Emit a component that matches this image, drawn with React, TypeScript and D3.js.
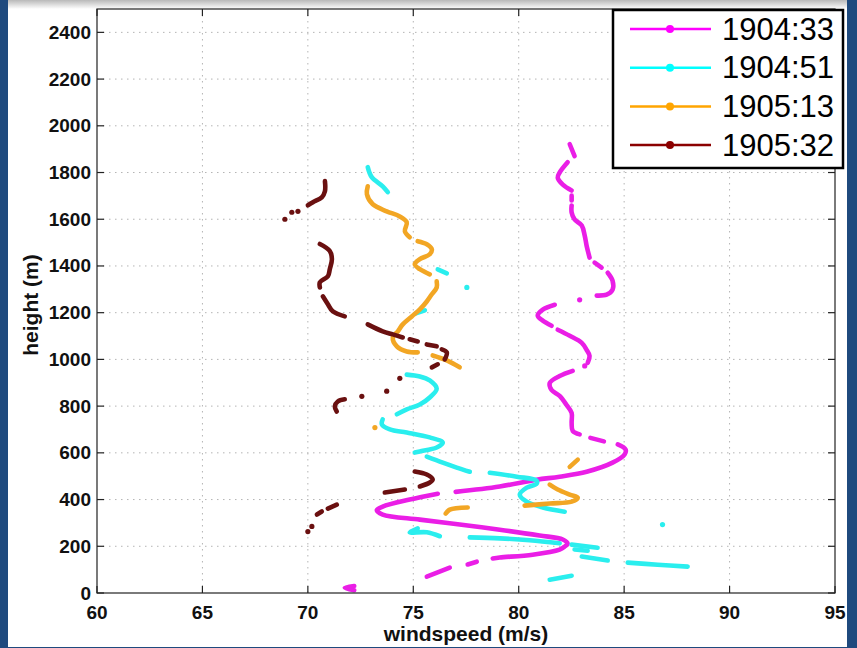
import React from 'react';
import * as d3 from 'd3';

type P = [number, number] | null;

const xTicks = [60, 65, 70, 75, 80, 85, 90, 95];
const yTicks = [0, 200, 400, 600, 800, 1000, 1200, 1400, 1600, 1800, 2000, 2200, 2400];
const seriesNames = ['1904:33', '1904:51', '1905:13', '1905:32'];

// [windspeed m/s, height m], null = gap
const s1904_33: P[] = [
  [82.42, 1921], [82.65, 1870], null,
  [82.32, 1844], [81.94, 1800], [81.85, 1778], [82.09, 1748], [82.51, 1723], null,
  [82.51, 1701], [82.51, 1680], null,
  [82.51, 1659], [82.51, 1629], [82.65, 1599], [82.99, 1573], [83.13, 1530], [83.22, 1487], [83.36, 1436], null,
  [83.60, 1414], [83.93, 1393], null,
  [84.22, 1371], [84.45, 1337], [84.45, 1298], [84.17, 1277], [83.70, 1273], null,
  [82.89, 1255], null,
  [81.71, 1234], [81.14, 1213], [80.90, 1187], [81.14, 1166], [81.56, 1144], null,
  [81.85, 1127], [82.42, 1101], [82.99, 1071], [83.22, 1041], [83.36, 1015], [83.27, 985], null,
  [83.13, 972], null,
  [82.56, 951], [81.94, 929], [81.47, 899], [81.56, 869], [81.94, 844], [82.27, 805], [82.51, 771], [82.51, 728], [82.56, 694], [82.89, 679], null,
  [83.40, 664], [84.04, 649], null,
  [84.70, 636], [85.07, 614], [85.02, 593], [84.45, 558], [83.22, 519], [81.94, 498], [80.85, 485], [79.10, 456], [77.01, 433], null,
  [76.16, 425], [74.83, 400], [73.55, 370], [73.27, 355], [73.55, 336], [75.31, 314], [77.20, 293], [79.10, 271], [80.99, 246], [82.09, 229], [82.32, 211], [82.18, 199], [81.94, 186], [80.66, 164], [79.10, 152], [78.77, 148], null,
  [78.01, 134], [77.58, 122], null,
  [76.73, 109], [75.64, 70], null,
  [72.2, 30], [71.75, 22], [72.2, 12],
];

const s1904_51: P[] = [
  [72.84, 1823], [73.03, 1780], [73.55, 1741], [73.79, 1716], null,
  [76.16, 1385], [76.59, 1368], null,
  [77.54, 1308], null,
  [75.12, 1197], [75.55, 1210], null,
  [74.69, 935], [75.31, 927], [75.78, 910], [76.11, 875], [75.78, 837], [75.31, 807], [74.69, 786], [74.22, 765], null,
  [73.55, 743], [73.51, 722], [73.89, 700], [74.69, 687], [75.78, 666], [76.40, 644], [76.11, 623], [75.31, 606], [75.07, 601], null,
  [75.64, 584], [76.40, 558], [77.06, 537], [77.68, 519], null,
  [78.63, 515], [79.91, 498], [80.85, 481], [80.85, 468], [80.38, 451], [80.05, 421], [80.38, 391], [81.14, 366], [82.18, 348], null,
  [75.21, 277], [74.83, 260], [75.64, 260], [76.26, 243], null,
  [77.68, 238], [79.10, 234], [80.52, 226], [81.94, 213], null,
  [82.51, 207], [83.74, 194], null,
  [82.65, 186], [83.27, 181], null,
  [82.99, 156], [84.22, 139], null,
  [85.17, 130], [86.59, 121], [88.01, 113], null,
  [81.47, 57], [82.51, 74], null,
  [86.82, 293],
];

const s1905_13: P[] = [
  [72.84, 1741], [72.80, 1707], [73.08, 1664], [73.74, 1634], [74.36, 1612], [74.69, 1587], [74.60, 1549], [74.83, 1523], null,
  [75.21, 1506], [75.64, 1493], [75.88, 1471], [75.78, 1450], [75.31, 1429], [75.07, 1407], [75.31, 1386], [75.78, 1364], null,
  [76.11, 1334], [76.11, 1308], [75.88, 1279], [75.64, 1248], [75.31, 1214], [74.93, 1184], [74.50, 1150], [74.27, 1120], [74.03, 1094], [74.22, 1056], [74.69, 1034], [75.21, 1030], null,
  [75.92, 1017], [76.59, 996], [77.20, 966], null,
  [73.18, 708], null,
  [76.54, 340], [76.73, 357], [77.58, 366], null,
  [82.42, 540], [82.80, 571], null,
  [81.47, 464], [81.85, 443], [82.42, 421], [82.80, 408], [82.51, 391], [81.47, 383], [80.28, 374],
];

const s1905_32: P[] = [
  [70.81, 1763], [70.81, 1720], [70.66, 1694], [70.24, 1673], [70.00, 1660], null,
  [69.53, 1634], null, [69.24, 1630], null, [68.91, 1600], null,
  [70.57, 1494], [71.04, 1464], [71.14, 1430], [71.04, 1386], [70.95, 1356], [70.57, 1330], [70.57, 1308], null,
  [70.71, 1270], [70.95, 1236], [71.18, 1206], [71.75, 1184], null,
  [72.84, 1150], [73.55, 1120], [74.03, 1107], [74.50, 1094], null,
  [74.83, 1086], [75.21, 1077], null,
  [75.64, 1064], [76.11, 1056], null,
  [76.35, 1043], [76.59, 1030], [76.49, 1000], null,
  [76.16, 979], [75.88, 966], null,
  [74.36, 919], null, [73.74, 864], null, [72.56, 842], null,
  [71.75, 829], [71.42, 820], [71.28, 799], [71.37, 777], null,
  [75.07, 520], [75.64, 507], [75.92, 486], [75.78, 473], [75.31, 456], null,
  [74.60, 443], [73.65, 430], null,
  [71.37, 378], [70.95, 361], null,
  [70.66, 349], [70.43, 336], null,
  [70.19, 285], null, [70.00, 263],
];

const seriesData = [s1904_33, s1904_51, s1905_13, s1905_32];
const lineColors = ['#ea1ee6', '#2aeeee', '#f2a624', '#6a1010'];
const legendColors = ['#ff00ff', '#00ffff', '#ffa500', '#8b0000'];

const W = 857, H = 648;
const L = 97, R = 835, T = 9, B = 593;

function segments(pts: P[]): [number, number][][] {
  const out: [number, number][][] = [];
  let cur: [number, number][] = [];
  for (const p of pts) {
    if (p === null) { if (cur.length) out.push(cur); cur = []; }
    else cur.push(p);
  }
  if (cur.length) out.push(cur);
  return out;
}

export default function App() {
  const x = d3.scaleLinear().domain([60, 95]).range([L, R]);
  const y = d3.scaleLinear().domain([0, 2500]).range([B, T]);
  const line = d3.line<[number, number]>().x(d => x(d[0])).y(d => y(d[1])).curve(d3.curveCatmullRom.alpha(0.5));
  const font = 'Liberation Sans, Arial, Helvetica, sans-serif';
  const tick = 7;
  return (
    <svg width={W} height={H} style={{ position: 'absolute', left: 0, top: 0 }} fontFamily={font}>
      <defs>
        <linearGradient id="topband" x1="0" y1="0" x2="0" y2="1">
          <stop offset="0" stopColor="#b9b9b9" />
          <stop offset="1" stopColor="#ffffff" />
        </linearGradient>
        <clipPath id="plotclip"><rect x={L} y={T} width={R - L} height={B - T} /></clipPath>
      </defs>
      <rect x={0} y={0} width={W} height={H} fill="#1f4a7e" />
      <rect x={8} y={0} width={839} height={647} fill="#ffffff" />
      <rect x={8} y={0} width={839} height={9} fill="url(#topband)" />
      {/* grid */}
      <g stroke="#b4b4b4" strokeWidth={1} strokeDasharray="1.5,4.5">
        {xTicks.slice(1, -1).map(t => <line key={'gx' + t} x1={x(t)} x2={x(t)} y1={T} y2={B} />)}
        {yTicks.slice(1).map(t => <line key={'gy' + t} x1={L} x2={R} y1={y(t)} y2={y(t)} />)}
      </g>
      {/* data */}
      <g clipPath="url(#plotclip)" strokeLinecap="round" strokeLinejoin="round" fill="none">
        {seriesData.map((s, i) => segments(s).map((seg, j) => seg.length > 1
          ? <path key={i + '-' + j} d={line(seg) || ''} stroke={lineColors[i]} strokeWidth={4.6} />
          : <circle key={i + '-' + j} cx={x(seg[0][0])} cy={y(seg[0][1])} r={2.6} fill={lineColors[i]} stroke="none" />))}
      </g>
      {/* axes box */}
      <rect x={L} y={T} width={R - L} height={B - T} fill="none" stroke="#222" strokeWidth={1.2} />
      <g stroke="#222" strokeWidth={1.2}>
        {xTicks.map(t => <g key={'tx' + t}>
          <line x1={x(t)} x2={x(t)} y1={B} y2={B - tick} />
          <line x1={x(t)} x2={x(t)} y1={T} y2={T + tick} />
        </g>)}
        {yTicks.map(t => <g key={'ty' + t}>
          <line x1={L} x2={L + tick} y1={y(t)} y2={y(t)} />
          <line x1={R} x2={R - tick} y1={y(t)} y2={y(t)} />
        </g>)}
      </g>
      <g fontSize={19} fontWeight="bold" fill="#111">
        {xTicks.map(t => <text key={'lx' + t} x={x(t)} y={619} textAnchor="middle">{t}</text>)}
        {yTicks.map(t => <text key={'ly' + t} x={91} y={y(t)} textAnchor="end" dominantBaseline="central">{t}</text>)}
      </g>
      <text x={(L + R) / 2} y={641} textAnchor="middle" fontSize={21} fontWeight="bold" fill="#111">windspeed (m/s)</text>
      <text transform={`translate(38,${(T + B) / 2 + 4}) rotate(-90)`} textAnchor="middle" fontSize={21} fontWeight="bold" fill="#111">height (m)</text>
      {/* legend */}
      <rect x={613} y={10} width={230} height={158} fill="#ffffff" stroke="#000" strokeWidth={2.5} />
      {seriesNames.map((n, i) => {
        const ly = 29 + i * 38.7;
        return <g key={'lg' + n}>
          <line x1={630} x2={711} y1={ly} y2={ly} stroke={legendColors[i]} strokeWidth={2.5} />
          <circle cx={670} cy={ly} r={4} fill={legendColors[i]} />
          <text x={722} y={ly} dominantBaseline="central" fontSize={31} fill="#000">{n}</text>
        </g>;
      })}
    </svg>
  );
}
